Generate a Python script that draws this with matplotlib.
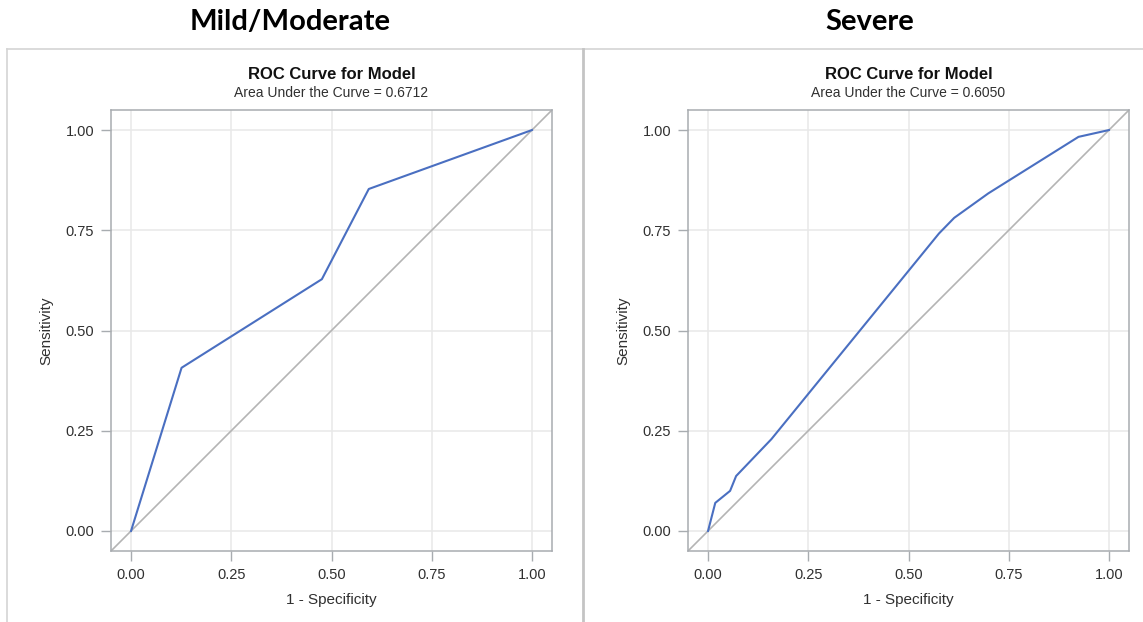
import matplotlib
matplotlib.use('Agg')
import matplotlib.pyplot as plt
from matplotlib.lines import Line2D

W, H = 1143, 622

panel_titles = ['Mild/Moderate', 'Severe']
auc_values = ['0.6712', '0.6050']

# ROC points (1 - specificity, sensitivity)
mild_fpr = [0.0, 0.126, 0.476, 0.593, 1.0]
mild_tpr = [0.0, 0.407, 0.628, 0.853, 1.0]
severe_fpr = [0.0, 0.018, 0.055, 0.070, 0.158, 0.576, 0.614, 0.699, 0.924, 1.0]
severe_tpr = [0.0, 0.070, 0.100, 0.137, 0.229, 0.742, 0.781, 0.842, 0.983, 1.0]

ticks = [0.0, 0.25, 0.5, 0.75, 1.0]
tick_labels = ['0.00', '0.25', '0.50', '0.75', '1.00']

CURVE = '#4a6fc1'
DIAG = '#b4b4b4'
GRID = '#e8e8e8'
SPINE = '#a8acb0'
TEXT = '#303030'

plt.rcParams['font.family'] = ['Liberation Sans', 'DejaVu Sans']

fig = plt.figure(figsize=(W / 100, H / 100), dpi=100)
fig.patch.set_facecolor('white')


def px_axes(left, top, width, height):
    return fig.add_axes([left / W, (H - top - height) / H, width / W, height / H])


def draw_roc(ax, fpr, tpr, auc):
    ax.plot([-0.05, 1.05], [-0.05, 1.05], color=DIAG, lw=1.2, zorder=2)
    ax.plot(fpr, tpr, color=CURVE, lw=1.5, zorder=3)
    ax.set_xlim(-0.05, 1.05)
    ax.set_ylim(-0.05, 1.05)
    ax.set_xticks(ticks)
    ax.set_yticks(ticks)
    ax.set_xticklabels(tick_labels)
    ax.set_yticklabels(tick_labels)
    ax.grid(True, color=GRID, lw=1.1, zorder=0)
    ax.set_axisbelow(True)
    ax.tick_params(length=7, width=1, color=SPINE, labelcolor=TEXT,
                   labelsize=10.5, pad=5)
    for s in ax.spines.values():
        s.set_color(SPINE)
        s.set_linewidth(1.1)
    ax.set_xlabel('1 - Specificity', fontsize=11, color=TEXT, labelpad=8)
    ax.set_ylabel('Sensitivity', fontsize=11, color=TEXT, labelpad=9)
    ax.text(0.5, 1.08, 'ROC Curve for Model', transform=ax.transAxes,
            ha='center', va='center', fontsize=12, fontweight='bold',
            color='#111111')
    ax.text(0.5, 1.038, f'Area Under the Curve = {auc}', transform=ax.transAxes,
            ha='center', va='center', fontsize=10, color=TEXT)


ax1 = px_axes(111, 110, 441, 441)
draw_roc(ax1, mild_fpr, mild_tpr, auc_values[0])
ax2 = px_axes(688, 110, 441, 441)
draw_roc(ax2, severe_fpr, severe_tpr, auc_values[1])

# panel headings
for xc, title in zip([290, 870], panel_titles):
    fig.text(xc / W, 1 - 22 / H, title, ha='center', va='center',
             fontsize=21, fontweight='bold', family=['Lato', 'DejaVu Sans'],
             color='black')

# panel frames
def fig_line(x0, y0, x1, y1, color, lw):
    fig.add_artist(Line2D([x0 / W, x1 / W], [1 - y0 / H, 1 - y1 / H],
                          color=color, lw=lw, transform=fig.transFigure))

fig_line(7, 49, W, 49, '#d4d4d4', 1.2)
fig_line(7, 49, 7, H, '#d4d4d4', 1.2)
fig_line(583, 49, 583, H, '#c4c4c4', 2.0)

plt.savefig('out.png', dpi=100)
